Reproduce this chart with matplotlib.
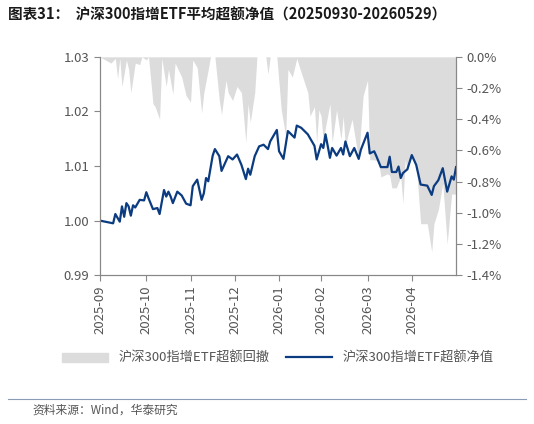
import matplotlib.pyplot as plt
from matplotlib.lines import Line2D
from matplotlib.patches import Patch
from matplotlib.ticker import FuncFormatter

plt.rcParams['font.family'] = ['Noto Sans CJK SC', 'DejaVu Sans']

# 超额净值 (交易日序号, 数值)
nav_day = [0, 6, 7, 9, 10, 11, 12, 13, 14, 15, 16, 18, 20, 21, 22, 24, 26, 27, 29, 30, 31, 32, 33, 35, 37, 39, 41, 42, 44, 46,
           47, 48, 49, 51, 52, 54, 55, 58, 60, 62, 64, 66, 67, 68, 70, 72, 74, 76, 77, 80, 81, 83, 85, 88, 89, 91, 94, 97, 98, 100,
           101, 102, 104, 105, 107, 109, 110, 111, 113, 115, 117, 118, 121, 122, 124, 125, 127, 130, 131, 132, 134, 135, 136, 137,
           139, 141, 143, 145, 148, 150, 151, 153, 155, 157, 159, 160, 161]
nav_val = [1.0000, 0.9995, 1.0012, 0.9998, 1.0026, 1.0007, 1.0032, 1.0026, 1.0009, 1.0028, 1.0024, 1.0038, 1.0037, 1.0052,
           1.0041, 1.0021, 1.0023, 1.0012, 1.0056, 1.0044, 1.0053, 1.0044, 1.0032, 1.0053, 1.0046, 1.0031, 1.0028, 1.0063, 1.0075,
           1.0038, 1.0050, 1.0078, 1.0072, 1.0119, 1.0131, 1.0118, 1.0091, 1.0118, 1.0112, 1.0121, 1.0102, 1.0076, 1.0095, 1.0084,
           1.0118, 1.0136, 1.0139, 1.0131, 1.0145, 1.0166, 1.0127, 1.0113, 1.0164, 1.0152, 1.0174, 1.0170, 1.0158, 1.0137, 1.0112,
           1.0140, 1.0133, 1.0158, 1.0115, 1.0133, 1.0119, 1.0133, 1.0121, 1.0145, 1.0118, 1.0133, 1.0113, 1.0130, 1.0161, 1.0123,
           1.0127, 1.0118, 1.0098, 1.0098, 1.0117, 1.0089, 1.0089, 1.0099, 1.0078, 1.0087, 1.0094, 1.0120, 1.0102, 1.0066, 1.0064,
           1.0047, 1.0063, 1.0074, 1.0096, 1.0053, 1.0081, 1.0075, 1.0098]

# 超额回撤 (%)
dd_day = [0, 5, 7, 8, 9, 10, 12, 13, 14, 16, 18, 19, 21, 22, 24, 25, 27, 28, 30, 31, 33, 34, 37, 39, 41, 42, 44, 46, 47, 49,
          50, 52, 54, 55, 57, 58, 60, 62, 64, 66, 67, 68, 70, 71, 75, 76, 77, 80, 82, 84, 85, 87, 89, 91, 94, 95, 97, 98, 99,
          100, 101, 102, 104, 105, 107, 109, 110, 111, 112, 114, 117, 118, 119, 121, 122, 124, 126, 127, 130, 131, 132, 134,
          136, 137, 138, 139, 141, 143, 145, 148, 150, 151, 153, 155, 157, 159, 161]
dd_val = [0, -0.04, -0.01, -0.14, -0.01, -0.19, -0.02, -0.08, -0.23, -0.04, -0.05, 0, -0.02, 0, -0.30, -0.32, -0.40, -0.01,
          -0.19, -0.08, -0.24, -0.04, -0.13, -0.25, -0.29, -0.02, -0.07, -0.36, -0.23, -0.08, 0, 0, -0.28, -0.37, -0.15, -0.23,
          -0.28, -0.19, -0.23, -0.55, -0.30, -0.42, -0.23, 0, 0, -0.11, 0, 0, -0.34, -0.51, -0.08, -0.13, -0.01, -0.10, -0.23,
          -0.38, -0.32, -0.55, -0.34, -0.38, -0.55, -0.45, -0.30, -0.55, -0.34, -0.53, -0.38, -0.58, -0.51, -0.40, -0.66, -0.45,
          -0.25, -0.15, -0.66, -0.66, -0.67, -0.77, -0.75, -0.76, -0.84, -0.84, -0.77, -0.94, -0.66, -0.73, -0.63, -0.69, -1.07,
          -1.07, -1.25, -1.07, -0.98, -0.81, -1.20, -0.88, -0.88]

tick_days = [0, 21, 41, 61, 81, 100, 121, 141]
tick_labels = ['2025-09', '2025-10', '2025-11', '2025-12', '2026-01', '2026-02', '2026-03', '2026-04']

fill_c = '#dcdcdc'
line_c = '#0b3b80'
grey = '#888888'

fig = plt.figure(figsize=(5.34, 4.24), dpi=100)
ax = fig.add_axes([0.187, 0.351, 0.667, 0.515])
ax2 = ax.twinx()

ax2.fill_between(dd_day, dd_val, 0, color=fill_c, lw=0)
ax2.set_ylim(-1.4, 0)
ax2.set_yticks([-1.4, -1.2, -1.0, -0.8, -0.6, -0.4, -0.2, 0])
ax2.yaxis.set_major_formatter(FuncFormatter(lambda v, p: f'{v:.1f}%'))

ax.plot(nav_day, nav_val, color=line_c, lw=1.6)
ax.set_zorder(ax2.get_zorder() + 1)
ax.patch.set_visible(False)
ax.set_ylim(0.99, 1.03)
ax.set_yticks([0.99, 1.00, 1.01, 1.02, 1.03])
ax.yaxis.set_major_formatter(FuncFormatter(lambda v, p: f'{v:.2f}'))
ax.set_xlim(0, 161)
ax.set_xticks(tick_days)
ax.set_xticklabels(tick_labels, rotation=90)

for a in (ax, ax2):
    a.spines['top'].set_visible(False)
    for s in ('left', 'right', 'bottom'):
        a.spines[s].set_color(grey)
    a.tick_params(colors=grey, labelcolor='#555555', labelsize=9.5, length=4)

fig.text(0.015, 0.955, '图表31：  沪深300指增ETF平均超额净值（20250930-20260529）',
         fontsize=10.5, fontweight='bold', color='#1a1a1a')
fig.add_artist(Line2D([0.015, 0.985], [0.058, 0.058], color='#8a9bb5', lw=0.8))
fig.text(0.06, 0.025, '资料来源：Wind，华泰研究', fontsize=8.5, color='#555555')

handles = [Patch(color=fill_c), Line2D([], [], color=line_c, lw=1.6)]
fig.legend(handles, ['沪深300指增ETF超额回撤', '沪深300指增ETF超额净值'], loc='center',
           bbox_to_anchor=(0.52, 0.155), ncol=2, frameon=False, fontsize=9.5,
           handlelength=3.5, columnspacing=1.2, labelcolor='#555555')

fig.savefig('out.png', dpi=100)
